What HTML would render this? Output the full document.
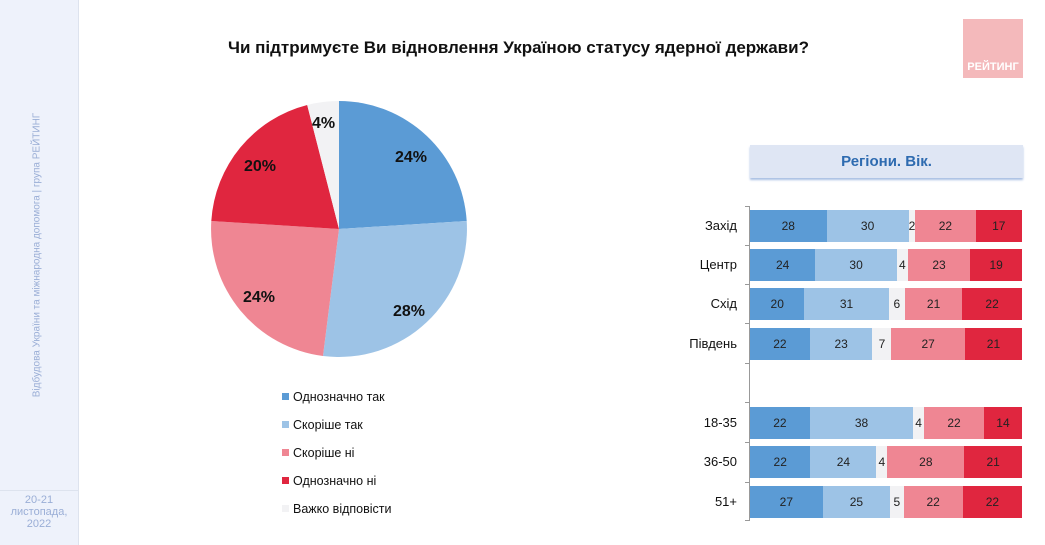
<!DOCTYPE html>
<html><head><meta charset="utf-8"><style>
body{margin:0;width:1045px;height:545px;background:#fff;position:relative;overflow:hidden;font-family:"Liberation Sans",sans-serif}
.side{position:absolute;left:0;top:0;width:78px;height:545px;background:#eef2fb;border-right:1px solid #dde3ee}
.vt{position:absolute;left:37px;top:255px;transform:translate(-50%,-50%) rotate(-90deg);white-space:nowrap;font-size:10px;color:#9aaed6}
.date{position:absolute;left:0;top:490px;width:78px;text-align:center;font-size:11px;color:#9aaed6;line-height:12px;border-top:1px solid #dde3ee;padding-top:3px}
.title{position:absolute;left:228px;top:38px;font-size:17px;font-weight:bold;color:#111}
.logo{position:absolute;left:963px;top:19px;width:60px;height:59px;background:#f4b9bb}
.logo span{position:absolute;left:0;right:0;bottom:5px;text-align:center;color:#fff;font-weight:bold;font-size:11px}
.hdr{position:absolute;left:750px;top:145px;width:273px;height:33px;background:#dfe6f4;box-shadow:0 2px 2px #a9bfe3;text-align:center;line-height:33px;color:#2e6bb0;font-weight:bold;font-size:15px}
.row{position:absolute;left:750px;width:272px;height:32px;display:flex}
.row div{height:100%;display:flex;align-items:center;justify-content:center;font-size:12px;color:#222;overflow:visible}
.c1{background:#5b9bd5}.c2{background:#9dc3e6}.c3{background:#f2f2f4}.c4{background:#ef8693}.c5{background:#e0263f}
.lab{position:absolute;right:308px;font-size:13px;color:#111;height:32px;line-height:32px}
.axis{position:absolute;left:749px;top:206px;width:1px;height:315px;background:#999}
.tick{position:absolute;left:745px;width:4px;height:1px;background:#999}
.leg{position:absolute;left:282px;font-size:12.5px;color:#111}
.leg i{display:inline-block;width:7px;height:7px;margin-right:4px;vertical-align:1px}
.pl{font-weight:bold;font-size:16px;fill:#111}
</style></head><body>
<div class="side"><div class="vt">Відбудова України та міжнародна допомога  | група РЕЙТИНГ</div>
<div class="date">20-21<br>листопада,<br>2022</div></div>
<div class="title">Чи підтримуєте Ви відновлення Україною статусу ядерної держави?</div>
<div class="logo"><span>РЕЙТИНГ</span></div>
<svg style="position:absolute;left:0;top:0" width="700" height="545">
<path d="M339 229 L339 101 A128 128 0 0 1 466.7 221 Z" fill="#5b9bd5"/>
<path d="M339 229 L466.7 221 A128 128 0 0 1 323 356 Z" fill="#9dc3e6"/>
<path d="M339 229 L323 356 A128 128 0 0 1 211.3 221 Z" fill="#ef8693"/>
<path d="M339 229 L211.3 221 A128 128 0 0 1 307.2 105 Z" fill="#e0263f"/>
<path d="M339 229 L307.2 105 A128 128 0 0 1 339 101 Z" fill="#f2f2f4"/>
<text class="pl" x="395" y="162">24%</text>
<text class="pl" x="393" y="316">28%</text>
<text class="pl" x="243" y="302">24%</text>
<text class="pl" x="244" y="171">20%</text>
<text class="pl" x="312" y="128">4%</text>
</svg>
<div class="leg" style="top:390px"><i class="c1"></i>Однозначно так</div>
<div class="leg" style="top:418px"><i class="c2"></i>Скоріше так</div>
<div class="leg" style="top:446px"><i class="c4"></i>Скоріше ні</div>
<div class="leg" style="top:474px"><i class="c5"></i>Однозначно ні</div>
<div class="leg" style="top:502px"><i class="c3"></i>Важко відповісти</div>
<div class="hdr">Регіони. Вік.</div>
<div class="axis"></div>
<div class="tick" style="top:206px"></div><div class="tick" style="top:245px"></div><div class="tick" style="top:284px"></div><div class="tick" style="top:323px"></div><div class="tick" style="top:363px"></div><div class="tick" style="top:402px"></div><div class="tick" style="top:442px"></div><div class="tick" style="top:482px"></div><div class="tick" style="top:520px"></div>
<div class="lab" style="top:210px">Захід</div>
<div class="row" style="top:210px"><div class="c1" style="flex:28">28</div><div class="c2" style="flex:30">30</div><div class="c3" style="flex:2">2</div><div class="c4" style="flex:22">22</div><div class="c5" style="flex:17">17</div></div>
<div class="lab" style="top:249px">Центр</div>
<div class="row" style="top:249px"><div class="c1" style="flex:24">24</div><div class="c2" style="flex:30">30</div><div class="c3" style="flex:4">4</div><div class="c4" style="flex:23">23</div><div class="c5" style="flex:19">19</div></div>
<div class="lab" style="top:288px">Схід</div>
<div class="row" style="top:288px"><div class="c1" style="flex:20">20</div><div class="c2" style="flex:31">31</div><div class="c3" style="flex:6">6</div><div class="c4" style="flex:21">21</div><div class="c5" style="flex:22">22</div></div>
<div class="lab" style="top:328px">Південь</div>
<div class="row" style="top:328px"><div class="c1" style="flex:22">22</div><div class="c2" style="flex:23">23</div><div class="c3" style="flex:7">7</div><div class="c4" style="flex:27">27</div><div class="c5" style="flex:21">21</div></div>
<div class="lab" style="top:407px">18-35</div>
<div class="row" style="top:407px"><div class="c1" style="flex:22">22</div><div class="c2" style="flex:38">38</div><div class="c3" style="flex:4">4</div><div class="c4" style="flex:22">22</div><div class="c5" style="flex:14">14</div></div>
<div class="lab" style="top:446px">36-50</div>
<div class="row" style="top:446px"><div class="c1" style="flex:22">22</div><div class="c2" style="flex:24">24</div><div class="c3" style="flex:4">4</div><div class="c4" style="flex:28">28</div><div class="c5" style="flex:21">21</div></div>
<div class="lab" style="top:486px">51+</div>
<div class="row" style="top:486px"><div class="c1" style="flex:27">27</div><div class="c2" style="flex:25">25</div><div class="c3" style="flex:5">5</div><div class="c4" style="flex:22">22</div><div class="c5" style="flex:22">22</div></div>
</body></html>
